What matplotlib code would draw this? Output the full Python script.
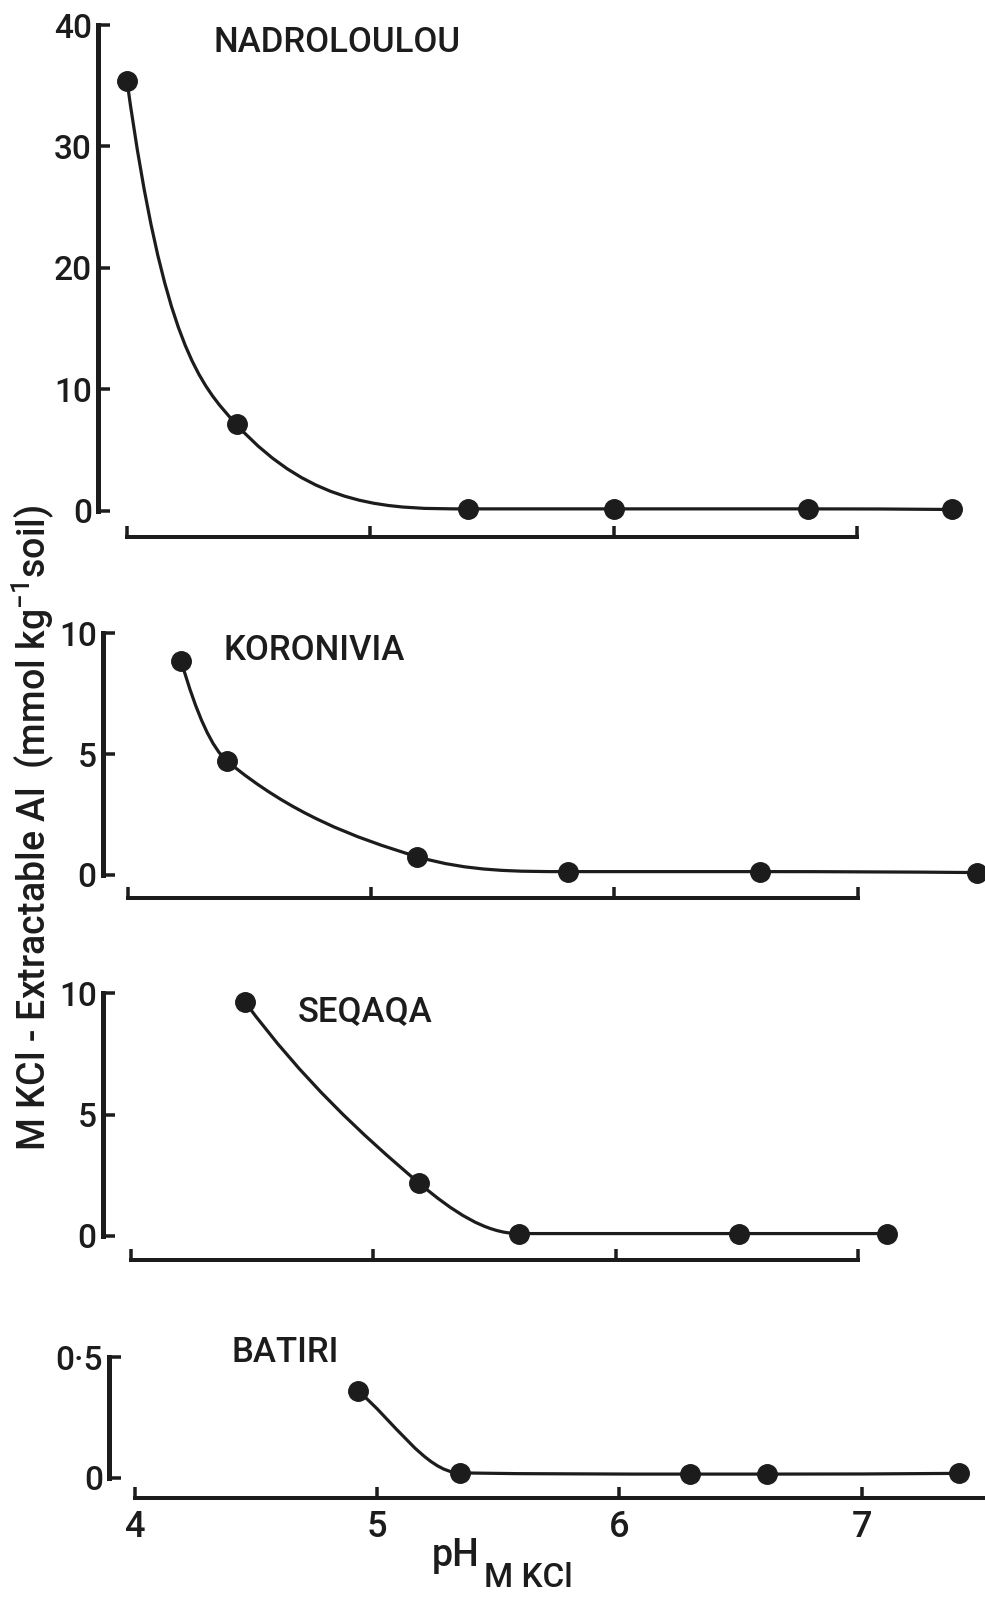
import numpy as np
import matplotlib
matplotlib.use('Agg')
import matplotlib.pyplot as plt
from matplotlib.path import Path
from matplotlib.patches import PathPatch

# Exchangeable Al against soil pH for four soils
ph_nadroloulou = [4.00, 4.45, 5.40, 6.00, 6.80, 7.39]
al_nadroloulou = [35.4, 7.1, 0.15, 0.15, 0.15, 0.10]

ph_koronivia = [4.22, 4.41, 5.19, 5.81, 6.60, 7.49]
al_koronivia = [8.85, 4.70, 0.76, 0.14, 0.14, 0.10]

ph_seqaqa = [4.47, 5.19, 5.60, 6.51, 7.12]
al_seqaqa = [9.65, 2.17, 0.10, 0.10, 0.10]

ph_batiri = [4.92, 5.34, 6.29, 6.61, 7.40]
al_batiri = [0.36, 0.02, 0.015, 0.015, 0.018]

yticks_nadroloulou = [0, 10, 20, 30, 40]
yticks_koronivia = [0, 5, 10]
yticks_seqaqa = [0, 5, 10]
yticks_batiri = [0, 0.5]
ylabels_batiri = ['0', '0·5']
xticks_ph = [4, 5, 6, 7]

INK = '#1c1c1c'
W, H = 985, 1602
PT = 0.72  # points per pixel at dpi 100

plt.rcParams['font.family'] = ['Roboto', 'DejaVu Sans']
plt.rcParams['font.weight'] = 'medium'
plt.rcParams['mathtext.fontset'] = 'custom'
plt.rcParams['mathtext.rm'] = 'Roboto'
plt.rcParams['mathtext.default'] = 'regular'


def curveSlopes(x, y, lead):
    # Monotone tangents: central differences inside, the first tangent set as
    # 'lead' times the first chord, then a Fritsch-Carlson limiter
    x = np.asarray(x, float)
    y = np.asarray(y, float)
    h = np.diff(x)
    d = np.diff(y) / h
    m = np.zeros_like(y)
    for k in range(1, len(y) - 1):
        if d[k - 1] * d[k] > 0:
            m[k] = (y[k + 1] - y[k - 1]) / (x[k + 1] - x[k - 1])
    for k in range(len(d)):
        if d[k] == 0:
            m[k] = m[k + 1] = 0.0
            continue
        a, b = m[k] / d[k], m[k + 1] / d[k]
        r = np.hypot(a, b)
        if r > 3:
            m[k] = 3 / r * a * d[k]
            m[k + 1] = 3 / r * b * d[k]
    m[0] = lead * d[0]
    m[-1] = 2 * d[-1] - m[-2] if d[-1] * (2 * d[-1] - m[-2]) > 0 else 0.0
    return m


def smoothCurve(x, y, lead):
    # Cubic Bezier path passing through every measured point
    m = curveSlopes(x, y, lead)
    verts = [(x[0], y[0])]
    codes = [Path.MOVETO]
    for i in range(len(x) - 1):
        h = x[i + 1] - x[i]
        verts += [(x[i] + h / 3, y[i] + m[i] * h / 3),
                  (x[i + 1] - h / 3, y[i + 1] - m[i + 1] * h / 3),
                  (x[i + 1], y[i + 1])]
        codes += [Path.CURVE4] * 3
    return Path(verts, codes)


def addPanel(fig, x4, x7, y0, yref, vref, spineX, axisY, top, bottom):
    # Axes spanning the full width; pixel calibration sets the data limits
    s = (x7 - x4) / 3.0
    k = (y0 - yref) / vref
    ax = fig.add_axes([0, 1 - bottom / H, 1, (bottom - top) / H])
    ax.set_xlim(4 - x4 / s, 4 + (W - x4) / s)
    ax.set_ylim((y0 - bottom) / k, (y0 - top) / k)
    ax.patch.set_visible(False)
    for side in ('top', 'right'):
        ax.spines[side].set_visible(False)
    ax.spines['left'].set_position(('data', 4 + (spineX - x4) / s))
    ax.spines['bottom'].set_position(('data', (y0 - axisY) / k))
    ax.spines['left'].set_linewidth(5 * PT)
    ax.spines['bottom'].set_linewidth(4 * PT)
    ax.spines['left'].set_color(INK)
    ax.spines['bottom'].set_color(INK)
    ax.tick_params(axis='y', direction='in', length=12 * PT, width=3.5 * PT,
                   pad=6 * PT, labelsize=24, colors=INK)
    ax.tick_params(axis='x', direction='in', length=11 * PT, width=3.5 * PT,
                   pad=12 * PT, labelsize=26, colors=INK)
    ax.set_xticks(xticks_ph)
    return ax


def drawSeries(ax, ph, al, lead):
    ax.add_patch(PathPatch(smoothCurve(ph, al, lead), fill=False, edgecolor=INK,
                           lw=3.2 * PT, capstyle='round', clip_on=False, zorder=2))
    ax.plot(ph, al, 'o', ms=19.5 * PT, color=INK, mec=INK, clip_on=False, zorder=3)


def figText(fig, x, y, s, **kw):
    fig.text(x / W, 1 - y / H, s, color=INK, **kw)


fig = plt.figure(figsize=(W / 100, H / 100), dpi=100)
fig.patch.set_facecolor('white')

# NADROLOULOU
ax1 = addPanel(fig, 127, 857, 510.7, 25, 40, 98, 537, 0, 560)
drawSeries(ax1, ph_nadroloulou, al_nadroloulou, lead=2.3)
ax1.set_yticks(yticks_nadroloulou)
ax1.spines['left'].set_bounds(0, 40)
ax1.spines['bottom'].set_bounds(4, 7)
ax1.tick_params(axis='x', labelbottom=False)
figText(fig, 214, 43, 'NADROLOULOU', fontsize=25, ha='left', va='center')

# KORONIVIA
ax2 = addPanel(fig, 127.7, 857.7, 875, 633.3, 10, 102.7, 898, 590, 920)
drawSeries(ax2, ph_koronivia, al_koronivia, lead=1.6)
ax2.set_yticks(yticks_koronivia)
ax2.spines['left'].set_bounds(0, 10)
ax2.spines['bottom'].set_bounds(4, 7)
ax2.tick_params(axis='x', labelbottom=False)
figText(fig, 224, 651, 'KORONIVIA', fontsize=25, ha='left', va='center')

# SEQAQA
ax3 = addPanel(fig, 131, 858, 1236, 993.3, 10, 102.7, 1260, 950, 1280)
drawSeries(ax3, ph_seqaqa, al_seqaqa, lead=1.3)
ax3.set_yticks(yticks_seqaqa)
ax3.spines['left'].set_bounds(0, 10)
ax3.spines['bottom'].set_bounds(4, 7)
ax3.tick_params(axis='x', labelbottom=False)
figText(fig, 298, 1012, 'SEQAQA', fontsize=25, ha='left', va='center')

# BATIRI
ax4 = addPanel(fig, 135, 861.7, 1477.7, 1357.3, 0.5, 109, 1498, 1300, 1520)
drawSeries(ax4, ph_batiri, al_batiri, lead=1.0)
ax4.set_yticks(yticks_batiri)
ax4.set_yticklabels(ylabels_batiri)
ax4.spines['left'].set_bounds(0, 0.5)
ax4.spines['bottom'].set_bounds(4, ax4.get_xlim()[1])
figText(fig, 232, 1352, 'BATIRI', fontsize=25, ha='left', va='center')

# axis titles
figText(fig, 33, 828, r'M KCl - Extractable Al  (mmol kg$^{-1}$soil)',
        fontsize=27, rotation=90, ha='center', va='center')
figText(fig, 432, 1556, 'pH', fontsize=27, ha='left', va='center')
figText(fig, 484, 1578, 'M KCl', fontsize=24, ha='left', va='center')

fig.savefig('out.png', dpi=100, facecolor='white')
